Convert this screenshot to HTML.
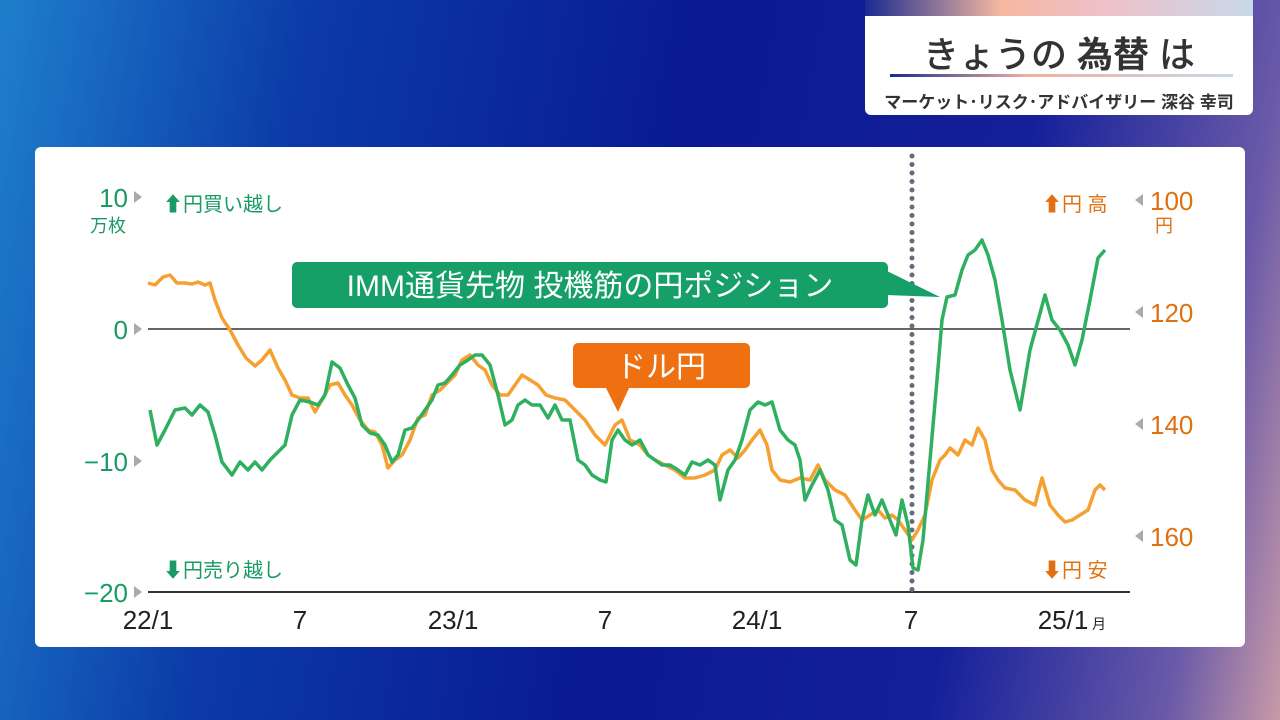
<!DOCTYPE html>
<html><head><meta charset="utf-8"><style>
body{margin:0;width:1280px;height:720px;overflow:hidden;font-family:"Liberation Sans","Noto Sans CJK JP",sans-serif;
background:linear-gradient(100deg,#1f7fcc 0%,#0b3ba8 22%,#0a1a92 50%,#14209a 75%,#6a5aa8 92%,#c89aa8 100%);position:relative}
.t{position:absolute;white-space:nowrap}
</style></head><body>
<div style="position:absolute;left:865px;top:0;width:388px;height:115px;background:#fff;border-radius:0 0 6px 6px;overflow:hidden">
<div style="height:16px;background:linear-gradient(90deg,#1a2a90,#f4b8a0 35%,#f0c0c8 60%,#c8d8e8)"></div>
<div class="t" style="left:0;width:388px;text-align:center;top:26px;font-size:36px;color:#333;font-weight:500">きょうの <b>為替</b> は</div>
<div style="position:absolute;left:25px;right:20px;top:74px;height:3px;background:linear-gradient(90deg,#1a2a90,#f0b0a0 40%,#c8d8e8)"></div>
<div class="t" style="left:0;width:388px;text-align:center;top:88px;font-size:17px;color:#333;font-weight:bold">マーケット･リスク･アドバイザリー 深谷 幸司</div>
</div>
<div style="position:absolute;left:35px;top:147px;width:1210px;height:500px;background:#fff;border-radius:6px"></div>
<svg width="1280" height="720" style="position:absolute;left:0;top:0" font-family="Liberation Sans, Noto Sans CJK JP, sans-serif">
<line x1="148" y1="329" x2="1130" y2="329" stroke="#333" stroke-width="1.5"/>
<line x1="148" y1="592" x2="1130" y2="592" stroke="#333" stroke-width="2"/>
<line x1="912" y1="156" x2="912" y2="590" stroke="#666a7a" stroke-width="5" stroke-dasharray="0,8.5" stroke-linecap="round"/>
<g fill="#1a9a64" font-size="26" text-anchor="end">
<text x="128" y="207">10</text><text x="128" y="339">0</text><text x="128" y="471">−10</text><text x="128" y="602">−20</text>
<text x="126" y="232" font-size="18">万枚</text></g>
<g fill="#aaa"><polygon points="134,191 134,203 142,197"/><polygon points="134,323 134,335 142,329"/><polygon points="134,455 134,467 142,461"/><polygon points="134,586 134,598 142,592"/>
<polygon points="1143,194 1143,206 1135,200"/><polygon points="1143,306 1143,318 1135,312"/><polygon points="1143,418 1143,430 1135,424"/><polygon points="1143,530 1143,542 1135,536"/></g>
<g fill="#e07010" font-size="26"><text x="1150" y="210">100</text><text x="1150" y="322">120</text><text x="1150" y="434">140</text><text x="1150" y="546">160</text><text x="1155" y="232" font-size="18">円</text>
<text x="1042" y="211" font-size="20">⬆円 高</text><text x="1042" y="577" font-size="20">⬇円 安</text></g>
<g fill="#1a9a64" font-size="20"><text x="163" y="211">⬆円買い越し</text><text x="163" y="577">⬇円売り越し</text></g>
<g fill="#222" font-size="26" text-anchor="middle"><text x="148" y="629">22/1</text><text x="300" y="629">7</text><text x="453" y="629">23/1</text><text x="605" y="629">7</text><text x="757" y="629">24/1</text><text x="911" y="629">7</text><text x="1063" y="629">25/1</text><text x="1099" y="629" font-size="14">月</text></g>
<polyline fill="none" stroke="#f5a030" stroke-width="3.5" stroke-linejoin="round" points="148,283 155,285 163,277 170,275 177,283 185,283 192,284 198,282 205,285 210,283 215,300 222,318 230,330 238,345 246,358 255,366 262,360 270,350 278,368 285,380 292,395 300,398 308,398 315,412 322,400 330,385 338,383 345,395 352,405 360,420 368,430 375,432 382,445 388,468 395,460 402,455 410,440 418,418 425,415 432,395 440,390 448,382 455,375 462,360 470,355 478,365 485,370 492,385 500,395 508,395 515,385 522,375 530,380 538,385 546,395 555,398 565,400 575,410 585,420 595,435 605,445 615,425 622,420 630,440 640,445 648,455 655,460 665,465 675,470 685,478 695,478 705,475 715,470 722,455 730,450 738,458 745,450 752,440 760,430 767,445 772,470 780,480 790,482 800,478 810,480 818,465 825,480 835,490 845,495 855,510 862,520 870,515 878,510 885,518 892,515 898,520 905,530 912,540 918,530 925,515 932,480 940,460 945,455 950,448 958,455 965,440 972,445 978,428 985,440 992,470 998,480 1005,488 1015,490 1025,500 1035,505 1042,478 1050,505 1058,515 1065,522 1072,520 1080,515 1088,510 1095,490 1100,485 1105,490"/>
<polyline fill="none" stroke="#2eb060" stroke-width="3.5" stroke-linejoin="round" points="150,410 157,445 165,430 175,410 185,408 192,415 200,405 208,412 215,435 222,462 232,475 240,462 248,470 255,462 262,470 270,460 278,452 285,445 292,415 300,400 310,402 318,405 325,395 332,362 340,368 348,385 355,398 362,425 370,433 378,435 385,445 392,462 398,455 405,430 412,428 418,420 425,410 432,400 438,385 445,383 452,375 460,365 468,360 475,355 482,355 490,365 498,395 505,425 512,420 518,405 525,400 532,405 540,405 548,418 555,405 562,420 570,420 578,460 585,465 592,475 600,480 606,482 612,440 618,430 625,440 632,445 640,440 648,455 655,460 662,465 670,465 678,470 685,475 692,462 700,465 708,460 715,465 720,500 728,470 735,460 742,440 750,410 758,402 765,405 772,402 780,430 788,440 795,445 800,460 805,500 812,485 820,470 828,490 835,520 842,525 850,560 856,565 862,520 868,495 875,515 882,500 890,520 896,535 902,500 908,525 913,568 918,570 923,540 930,460 937,380 942,320 947,297 955,295 962,270 968,255 975,250 982,240 988,255 995,280 1002,320 1010,370 1020,410 1030,350 1045,295 1052,320 1060,330 1068,345 1075,365 1082,340 1090,300 1098,258 1105,250"/>
<rect x="292" y="262" width="596" height="46" rx="5" fill="#16a067"/>
<polygon points="885,270 885,295 940,297" fill="#16a067"/>
<text x="590" y="296" fill="#fff" font-size="30" text-anchor="middle">IMM通貨先物 投機筋の円ポジション</text>
<rect x="573" y="343" width="177" height="45" rx="5" fill="#ee7010"/>
<polygon points="605,386 630,386 618,412" fill="#ee7010"/>
<text x="661" y="377" fill="#fff" font-size="30" text-anchor="middle">ドル円</text>
</svg>
</body></html>
